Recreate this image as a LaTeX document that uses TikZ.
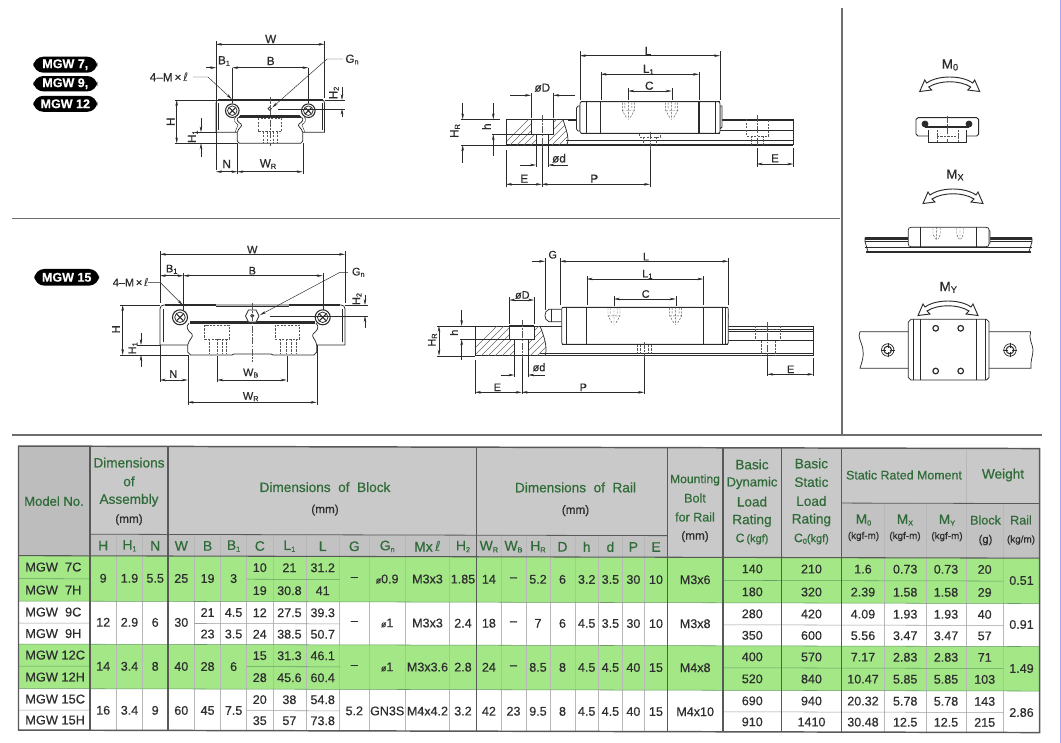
\documentclass[tikz,border=0pt]{standalone}
\usepackage{fontspec}
\setmainfont{Liberation Sans}[FakeBold=0.5]
\newfontfamily\djv{DejaVu Sans}
\usetikzlibrary{arrows.meta}
\definecolor{ink}{HTML}{2B2B2B}
\definecolor{hdr}{HTML}{C9C9C9}
\definecolor{hdrB}{HTML}{BDBDBD}
\definecolor{grn}{HTML}{A3E787}
\definecolor{hgrn}{HTML}{2F6B38}
\definecolor{cellink}{HTML}{2E2E2E}
\definecolor{rulec}{HTML}{6E6E6E}
\newcount\lbno
\newcommand\subs[1]{\raisebox{-.25ex}{\fontsize{5.5}{6}\selectfont #1}}
\newcommand\subm[1]{\raisebox{-.25ex}{\fontsize{7}{8}\selectfont #1}}
\newcommand\scriptl{{\djv ℓ}}
\newcommand\smallo{{\fontsize{6.5}{7}\selectfont ø}}
\newcommand\lb[4][]{\global\advance\lbno 1 \node[lab,#1] (n\the\lbno) at (#2,#3) {#4};}
\newcommand\tc[4][]{\global\advance\lbno 1 \node[cellt,#1] (n\the\lbno) at (#2,#3) {#4};}
\newcommand\hc[4][]{\global\advance\lbno 1 \node[headt,#1] (n\the\lbno) at (#2,#3) {#4};}
\newcommand\screw[3]{\draw[part,fill=white,line width=.8pt] (#1,#2) circle (#3);
 \draw[part,fill=white] (#1,#2) circle (#3*.7);
 \draw[part,line width=.8pt] (#1-#3*.45,#2-#3*.45) -- (#1+#3*.45,#2+#3*.45) (#1-#3*.45,#2+#3*.45) -- (#1+#3*.45,#2-#3*.45);}
\newcommand\thole[2]{\draw[hid] (#1-6,#2) -- (#1-6,#2+8) -- (#1-2,#2+15) (#1+6,#2) -- (#1+6,#2+8) -- (#1+2,#2+15) (#1-3.5,#2) -- (#1-3.5,#2+6) (#1+3.5,#2) -- (#1+3.5,#2+6) (#1-6,#2+8) -- (#1+6,#2+8) (#1,#2-1) -- (#1,#2+17);}
\newcommand\momarrow[2]{\begin{scope}[shift={(#1,#2)}]
 \draw[ink,fill=white,line width=.7pt,line join=miter] (-30,7.5) -- (-25,-4) -- (-23,-1) .. controls (-12,-9) and (12,-9) .. (23,-1) -- (25,-4) -- (30,7.5) -- (18,6) -- (21,3) .. controls (10,-4) and (-10,-4) .. (-21,3) -- (-18,6) -- cycle;
 \end{scope}}
\tikzset{
 lab/.style={inner sep=0pt,text=ink,font=\fontsize{8.8}{10}\selectfont},
 labs/.style={inner sep=0pt,text=ink,font=\fontsize{8.2}{9}\selectfont},
 labm/.style={inner sep=0pt,text=ink,font=\fontsize{10}{11}\selectfont},
 cellt/.style={inner sep=0pt,text=cellink,font=\fontsize{9.4}{10}\selectfont},
 headt/.style={inner sep=0pt,text=hgrn,font=\fontsize{10.2}{11}\selectfont},
 part/.style={draw=ink,line width=.55pt},
 heavy/.style={draw=ink,line width=1.1pt},
 thin/.style={draw=ink,line width=.3pt},
 hid/.style={draw=ink!80,line width=.35pt,dash pattern=on 1.6pt off 1pt},
 cen/.style={draw=ink!80,line width=.3pt,dash pattern=on 5pt off 1.2pt on 1.2pt off 1.2pt},
 dimb/.style={draw=ink,line width=.35pt,{Stealth[length=4.5pt,width=1.9pt]}-{Stealth[length=4.5pt,width=1.9pt]}},
 dimr/.style={draw=ink,line width=.35pt,-{Stealth[length=4.5pt,width=1.9pt]}},
 pill/.style={fill=black,rounded corners=7.5pt,text=white,inner sep=0pt,font=\bfseries\fontsize{9.4}{10}\selectfont},
 major/.style={draw=black!65,line width=.8pt},
 minor/.style={draw=black!28,line width=.35pt},
 rowg/.style={draw=green!35!black!60,line width=.4pt},
 rowk/.style={draw=black!38,line width=.4pt},
}
\begin{document}
\begin{tikzpicture}[x=.75pt,y=-.75pt]
\useasboundingbox (0,0) rectangle (1061,743);
\fill[white] (0,0) rectangle (1061,743);
% page rules
\draw[rulec,line width=1.1pt] (12,218.7) -- (840,218.7);
\draw[rulec,line width=1.1pt] (12,435) -- (1042,435);
\draw[rulec,line width=1.1pt] (842,8) -- (842,435);
\draw[blue!35!white,line width=1pt] (1060.5,0) -- (1060.5,743);
% badges
\node[pill,minimum width=48pt,minimum height=12pt] (b7) at (65.3,64.7) {MGW 7,};
\node[pill,minimum width=48pt,minimum height=11.5pt] (b9) at (65.3,83.7) {MGW 9,};
\node[pill,minimum width=48pt,minimum height=12pt] (b12) at (65.3,103.8) {MGW 12};
\node[pill,minimum width=48.5pt,minimum height=12.5pt] (b15) at (66.7,277.3) {MGW 15};

%%%%%%%%% cross-section 1
\draw[hid] (258,118.3) rectangle (281.7,131.7) (263,131.7) -- (263,143) (277,131.7) -- (277,143) (267,131.7) -- (267,143) (273,131.7) -- (273,143);
\draw[part] (237.3,132.3) -- (216,132.3) -- (216,103) .. controls (216,101) and (217,100) .. (219,100) -- (321.5,100) .. controls (323.5,100) and (324.5,101) .. (324.5,103) -- (324.5,132.3) -- (302.7,132.3);
\draw[thin] (218,130) -- (218,103) (322.5,130) -- (322.5,103);
\draw[heavy] (218,100) -- (322.5,100);
\draw[part] (237.3,132.3) -- (237.3,141) -- (239.3,143.3) -- (300.7,143.3) -- (302.7,141) -- (302.7,132.3);
\draw[heavy] (239,117) -- (301,117);
\draw[part] (240,115) -- (300,115);
\draw[part] (238.5,117) .. controls (235.5,120) and (238,122) .. (241,124) .. controls (243.5,126) and (238,128) .. (237.3,132.3);
\draw[part] (301.5,117) .. controls (304.5,120) and (302,122) .. (299,124) .. controls (296.5,126) and (302,128) .. (302.7,132.3);
\draw[thin] (236,117) .. controls (232.5,120) and (235,122) .. (238,125) -- (235,132.3);
\draw[thin] (304,117) .. controls (307.5,120) and (305,122) .. (302,125) -- (305,132.3);
\screw{232.3}{110.7}{6.8}
\screw{308.3}{110.7}{6.8}
\draw[part] (269.7,108.7) circle (1.7);
\draw[cen] (269.7,97) -- (269.7,146);
% dims
\draw[thin] (216,41) -- (216,170) (324.5,41) -- (324.5,98) (232.3,68) -- (232.3,103) (308.3,68) -- (308.3,103);
\draw[dimb] (216,44.3) -- (324.5,44.3);
\lb{270.7}{39}{W}
\draw[dimr] (206,67.7) -- (216,67.7);
\draw[dimb] (232.3,67.7) -- (308.3,67.7);
\lb{224}{61}{B\subs{1}}
\lb{270.7}{61}{B}
\lb{169}{77}{4–M\,×\,\scriptl}
\draw[dimr] (193,77) -- (208,77) -- (231.7,99);
\lb{352}{59.5}{G\subs{n}}
\draw[dimr] (343,59) -- (327,59) -- (272.2,107.5);
\draw[thin] (324.5,100) -- (345,100) (278,108.7) -- (345,108.7);
\draw[dimr] (342,86.7) -- (342,100);
\draw[dimr] (342,117) -- (342,108.7);
\lb[rotate=90]{334}{93}{H\subs{2}}
\draw[thin] (175,100) -- (216,100) (175,143.3) -- (237.3,143.3) (195,132.3) -- (216,132.3);
\draw[dimb] (176.7,100) -- (176.7,143.3);
\lb[rotate=90]{170.7}{121.7}{H}
\draw[dimr] (201,118) -- (201,132.3);
\draw[dimr] (201,157) -- (201,143.3);
\lb[rotate=90]{192.7}{136.7}{H\subs{1}}
\draw[thin] (237.3,143) -- (237.3,174) (302.7,143) -- (302.7,174);
\draw[dimb] (216,171.7) -- (237.3,171.7);
\draw[dimb] (237.3,171.7) -- (302.7,171.7);
\lb{226.7}{164}{N}
\lb{268}{164}{W\subs{R}}

%%%%%%%%% side view 1
\draw[part] (568,120.5) -- (793.3,120.5) (720,130) -- (793.3,130) (566,140.7) -- (793.3,140.7) (793.3,119.3) -- (793.3,145);
\draw[part,line width=.9pt] (563,119.3) -- (793.3,119.3);
\draw[heavy] (506,145) -- (793.3,145);
\draw[part] (506,119.3) -- (563,119.3);
\begin{scope}
 \clip (506,119.3) -- (531,119.3) -- (531,134.3) -- (536,134.3) -- (536,145) -- (506,145) -- cycle (553.3,119.3) -- (553.3,134.3) -- (548.3,134.3) -- (548.3,145) -- (566.7,145) .. controls (570,138) and (566,130) .. (563,119.3) -- cycle;
 \foreach \k in {0,7,...,100} {\draw[ink!70,line width=.3pt] (500+\k,148) -- (530+\k,118);}
\end{scope}
\draw[part] (506,119.3) -- (506,145) (531,119.3) -- (531,134.3) -- (536,134.3) -- (536,145) (553.3,119.3) -- (553.3,134.3) -- (548.3,134.3) -- (548.3,145) (531,134.3) -- (553.3,134.3);
\draw[part] (566.7,145) .. controls (570,138) and (566,130) .. (563,119.3);
\draw[heavy] (531,119.3) -- (553.3,119.3) (536,145) -- (548.3,145);
\draw[part,fill=white] (578,106) -- (576.5,108) -- (576.5,129) -- (578,131) -- (580,131) -- (580,106) -- cycle;
\draw[part,fill=white] (722,106) -- (720,106) -- (720,129) -- (722,127) -- cycle;
\draw[part,fill=white] (582,101.7) -- (718,101.7) .. controls (719.5,101.7) and (720,102.5) .. (720,104) -- (720,131) .. controls (720,132.5) and (719.5,133.3) .. (718,133.3) -- (582,133.3) .. controls (580.5,133.3) and (580,132.5) .. (580,131) -- (580,104) .. controls (580,102.5) and (580.5,101.7) .. (582,101.7) -- cycle;
\draw[heavy] (580.5,101.7) -- (719.5,101.7) (580.5,133.3) -- (719.5,133.3);
\draw[part,line width=.8pt] (600.7,101.7) -- (600.7,133.3) (699,101.7) -- (699,133.3);
\draw[part] (586,101.7) -- (586,133.3) (715,101.7) -- (715,133.3);
\thole{628.3}{102.5}
\thole{671.7}{102.5}
\draw[hid] (639.3,134) -- (639.3,137) -- (660.7,137) -- (660.7,134) (643.3,137) -- (643.3,145) (656.7,137) -- (656.7,145);
\draw[hid] (746.7,119.3) -- (746.7,136) -- (768.3,136) -- (768.3,119.3) (751.7,136) -- (751.7,145) (763.3,136) -- (763.3,145);
\draw[cen] (756.7,115) -- (756.7,146) (650,132) -- (650,150) (541.7,115) -- (541.7,148);
% dims
\draw[thin] (580,51) -- (580,100) (720,51) -- (720,100) (600.7,72) -- (600.7,100) (699,72) -- (699,100) (628.3,88) -- (628.3,100) (671.7,88) -- (671.7,100);
\draw[dimb] (580,55.7) -- (720,55.7);
\lb{648}{51}{L}
\draw[dimb] (600.7,74.3) -- (699,74.3);
\lb{648.3}{69.5}{L\subs{1}}
\draw[dimb] (628.3,91) -- (671.7,91);
\lb{649.3}{85.7}{C}
\draw[thin] (531,93) -- (531,118) (553.3,93) -- (553.3,118);
\draw[dimr] (510,95.3) -- (531,95.3);
\draw[dimr] (575,95.3) -- (553.3,95.3);
\lb{542.3}{87.7}{øD}
\draw[thin] (460.7,119.3) -- (500,119.3) (491.7,134.3) -- (531,134.3) (460.7,145) -- (506,145);
\draw[dimr] (493.3,103.3) -- (493.3,119.3);
\draw[dimr] (493.3,156) -- (493.3,134.3);
\lb[rotate=90]{486.5}{126.7}{h}
\draw[dimr] (462.7,102.7) -- (462.7,119.3);
\draw[dimr] (462.7,162.7) -- (462.7,145);
\lb[rotate=90]{455}{131}{H\subs{R}}
\draw[thin] (536,146) -- (536,167) (548.3,146) -- (548.3,167) (506,150) -- (506,187) (541.7,148) -- (541.7,187) (650,150) -- (650,187);
\draw[dimr] (520,165) -- (536,165);
\draw[dimr] (568,165) -- (548.3,165);
\lb{559}{158.3}{ød}
\draw[dimb] (506,184.3) -- (541.7,184.3);
\draw[dimb] (541.7,184.3) -- (650,184.3);
\lb{524.3}{178.7}{E}
\lb{594.3}{178.7}{P}
\draw[thin] (756.7,148) -- (756.7,167) (793.3,148) -- (793.3,167);
\draw[dimb] (756.7,164) -- (793.3,164);
\lb{775}{158.3}{E}

%%%%%%%%% cross-section 2
\draw[hid] (204.7,325) rectangle (229,339) (209,339) -- (209,354) (217.3,339) -- (217.3,354) (222,339) -- (222,354) (226,339) -- (226,354);
\draw[hid] (275.3,325) rectangle (299.7,339) (280,339) -- (280,354) (286.7,339) -- (286.7,354) (291,339) -- (291,354) (296,339) -- (296,354);
\draw[part] (187.7,345) -- (160,345) -- (160,309) .. controls (160,306.5) and (161.5,305) .. (164,305) -- (341,305) .. controls (343.5,305) and (345,306.5) .. (345,309) -- (345,345) -- (316.7,345);
\draw[heavy] (165,305) -- (216,305) (289,305) -- (340,305);
\draw[part] (216,306.5) -- (289,306.5);
\draw[thin] (163,342) -- (163,309) (342,342) -- (342,309);
\draw[part] (187.7,345) -- (187.7,352) -- (190.5,355) -- (232,355) -- (234,354) -- (271,354) -- (273,355) -- (314,355) -- (316.7,352) -- (316.7,345);
\draw[heavy] (190,323) -- (315,323);
\draw[part] (190,321) -- (315,321);
\draw[part] (189,323) .. controls (185,327) and (188,331) .. (192,334) .. controls (194,337) and (189,339) .. (187.7,345);
\draw[part] (316,323) .. controls (320,327) and (317,331) .. (313,334) .. controls (311,337) and (316,339) .. (316.7,345);
\screw{180}{317.3}{7.5}
\screw{322.7}{317.3}{7.5}
\draw[part,fill=white] (245.5,316) -- (248.5,310) -- (256,310) -- (259,316) -- (256,322) -- (248.5,322) -- cycle;
\draw[part] (252.3,315.7) circle (1.6);
\draw[cen] (252.3,303) -- (252.3,362);
% dims
\draw[thin] (160,251) -- (160,303) (345,251) -- (345,303) (183.3,273) -- (183.3,310) (322.7,273) -- (322.7,310) (160,345) -- (160,382) (187.7,355) -- (187.7,405) (316.7,345) -- (316.7,405) (217.3,356) -- (217.3,382) (286.7,356) -- (286.7,382);
\draw[dimb] (160,254.3) -- (345,254.3);
\lb[labs]{252.3}{249.7}{W}
\draw[dimb] (160,275.7) -- (183.3,275.7);
\draw[dimb] (183.3,275.7) -- (322.7,275.7);
\lb[labs]{171.7}{269.3}{B\subs{1}}
\lb[labs]{252.3}{270.7}{B}
\lb[labs]{130.7}{282.3}{4–M\,×\,\scriptl}
\draw[dimr] (148,282.3) -- (160,282.3) -- (182.7,305);
\lb[labs]{358.3}{272.3}{G\subs{n}}
\draw[dimr] (348,272.3) -- (340,272.3) -- (260,315);
\draw[thin] (345,305) -- (368,305) (270,316) -- (368,316);
\draw[dimr] (365,295) -- (365,305);
\draw[dimr] (365,328) -- (365,316);
\lb[labs,rotate=90]{357}{299}{H\subs{2}}
\draw[thin] (120,305) -- (160,305) (120,355) -- (187.7,355) (137,345) -- (160,345);
\draw[dimb] (122.7,305) -- (122.7,355);
\lb[labs,rotate=90]{116}{329.3}{H}
\draw[dimr] (141,333.3) -- (141,345);
\draw[dimr] (141,366.7) -- (141,355);
\lb[labs,rotate=90]{133}{348.3}{H\subs{1}}
\draw[dimb] (160,380) -- (187.7,380);
\lb[labs]{173.3}{374}{N}
\draw[dimb] (217.3,380) -- (286.7,380);
\lb[labs]{250.7}{373}{W\subs{B}}
\draw[dimb] (187.7,402.3) -- (316.7,402.3);
\lb[labs]{250.7}{396.7}{W\subs{R}}

%%%%%%%%% side view 2
\draw[part] (475,326) -- (813.3,326) (728,329) -- (813.3,329) (728,331) -- (813.3,331) (728,340.5) -- (813.3,340.5) (540,353) -- (813.3,353) (813.3,326) -- (813.3,355.7);
\draw[heavy] (475,355.7) -- (813.3,355.7);
\begin{scope}
 \clip (475,326) -- (509.3,326) -- (509.3,339.3) -- (514.3,339.3) -- (514.3,355.7) -- (475,355.7) -- cycle (534,326) -- (534,339.3) -- (528.3,339.3) -- (528.3,355.7) -- (545,355.7) .. controls (548,348) and (544,336) .. (540,326) -- cycle;
 \foreach \k in {0,7,...,110} {\draw[ink!70,line width=.3pt] (465+\k,358) -- (497+\k,326);}
\end{scope}
\draw[part] (475,326) -- (475,355.7) (509.3,326) -- (509.3,339.3) -- (514.3,339.3) -- (514.3,355.7) (534,326) -- (534,339.3) -- (528.3,339.3) -- (528.3,355.7) (509.3,339.3) -- (534,339.3);
\draw[heavy] (509.3,326) -- (534,326);
\draw[part] (545,355.7) .. controls (548,348) and (544,336) .. (540,326);
% nipple
\draw[part,fill=white] (561.7,309.3) -- (549,309.3) .. controls (546,310) and (545,313) .. (545,315.5) .. controls (545,318) and (546,321) .. (549,321.7) -- (561.7,321.7);
\draw[part] (551,309.3) -- (551,321.7);
\draw[part,fill=white] (726,311) .. controls (729,313) and (729.5,318) .. (726,322) -- cycle;
\draw[part,fill=white] (563.5,307.3) -- (726.5,307.3) .. controls (727.8,307.3) and (728.3,308) .. (728.3,309.5) -- (728.3,342) .. controls (728.3,343.5) and (727.8,344.3) .. (726.5,344.3) -- (563.5,344.3) .. controls (562.2,344.3) and (561.7,343.5) .. (561.7,342) -- (561.7,309.5) .. controls (561.7,308) and (562.2,307.3) .. (563.5,307.3) -- cycle;
\draw[heavy] (562,344.3) -- (728,344.3);
\draw[part,line width=.75pt] (562,307.3) -- (728,307.3) (586.7,307.3) -- (586.7,344.3) (703.3,307.3) -- (703.3,344.3);
\draw[part] (566.7,307.3) -- (566.7,344.3) (722.3,307.3) -- (722.3,344.3) (725,307.3) -- (725,344.3);
\thole{614}{307.8}
\thole{675.7}{307.8}
\draw[hid] (637,345) -- (637,355) (651,345) -- (651,355) (640,345) -- (640,355) (648,345) -- (648,355);
\draw[hid] (755,329) -- (780,329) (755,326) -- (755,341) (780,326) -- (780,341) (761,341) -- (761,355) (775,341) -- (775,355);
\draw[cen] (767.3,322) -- (767.3,358) (644,342) -- (644,358) (521.7,320) -- (521.7,358);
% dims
\draw[thin] (545,258) -- (545,310) (560,258) -- (560,305) (728.3,258) -- (728.3,305) (586.7,276) -- (586.7,305) (703.3,276) -- (703.3,305) (614,296) -- (614,306) (675.7,296) -- (675.7,306);
\draw[dimr] (531.7,261.3) -- (545,261.3);
\draw[dimb] (560,261.3) -- (728.3,261.3);
\lb[labs]{552.7}{254.7}{G}
\lb[labs]{646}{256.7}{L}
\draw[dimb] (586.7,279) -- (703.3,279);
\lb[labs]{647.3}{274.3}{L\subs{1}}
\draw[dimb] (614,299) -- (675.7,299);
\lb[labs]{645.7}{294}{C}
\draw[thin] (509.3,297) -- (509.3,324) (534,297) -- (534,324);
\draw[dimb] (509.3,300) -- (534,300);
\lb[labs]{522.3}{295}{øD}
\draw[thin] (437,326) -- (475,326) (459.7,339.3) -- (509,339.3) (437,355.7) -- (475,355.7);
\draw[dimr] (461.7,310) -- (461.7,326);
\draw[dimr] (461.7,360) -- (461.7,339.3);
\lb[labs,rotate=90]{454}{332.7}{h}
\draw[dimb] (439,326) -- (439,355.7);
\lb[labs,rotate=90]{432.5}{340}{H\subs{R}}
\draw[thin] (514.3,356) -- (514.3,377) (528.3,356) -- (528.3,377) (475,360) -- (475,394) (521.7,358) -- (521.7,394) (644,358) -- (644,394);
\draw[dimr] (500.7,375) -- (514.3,375);
\draw[dimr] (545,375) -- (528.3,375);
\lb[labs]{539}{367.3}{ød}
\draw[dimb] (475,392.3) -- (521.7,392.3);
\draw[dimb] (521.7,392.3) -- (644,392.3);
\lb[labs]{497.3}{387.3}{E}
\lb[labs]{583.3}{387.3}{P}
\draw[thin] (767.3,358) -- (767.3,376) (813.3,358) -- (813.3,376);
\draw[dimb] (767.3,374.3) -- (813.3,374.3);
\lb[labs]{790.7}{369.3}{E}

%%%%%%%%% moment panel
\lb[labm]{950}{65}{M\subm{0}}
\momarrow{949.7}{84}
\lb[labm]{955}{175}{M\subm{X}}
\momarrow{953}{196}
\lb[labm]{948.3}{287.3}{M\subm{Y}}
\momarrow{948}{308}
% M0 block
\draw[part,line width=.7pt] (928,136) -- (918,136) -- (916,134) -- (916,119.5) -- (918,117.7) -- (976.7,117.7) -- (978.7,119.5) -- (978.7,134) -- (976.7,136) -- (966.7,136);
\draw[part,line width=.7pt] (928,130) -- (928,142.7) -- (966.7,142.7) -- (966.7,130);
\draw[line width=1.3pt,ink] (925,126.7) -- (969,126.7);
\draw[part,fill=ink] (925,124) circle (3);
\draw[part,fill=ink] (969,124) circle (3);
\draw[hid] (937,130) -- (937,142) (958,130) -- (958,142) (937,136) -- (958,136);
\draw[cen] (947.3,116) -- (947.3,143);
% Mx
\draw[part] (865,237.5) -- (908.3,237.5) (989,237.5) -- (1032,237.5) (865,241.7) -- (908.3,241.7) (989,241.7) -- (1032,241.7) (865,247) -- (1032,247);
\draw[ink,line width=1.4pt] (865,239) -- (908.3,239) (989,239) -- (1032,239);
\draw[ink,line width=1.6pt] (866,251.7) -- (1031,251.7);
\draw[part] (865,237.5) -- (865,241.7) -- (868,251.7) (1032,237.5) -- (1032,241.7) -- (1029,251.7);
\draw[part,fill=white] (986,229) -- (990,231) -- (990,243) -- (986,245) -- cycle;
\draw[part,fill=white] (911,227.3) -- (986,227.3) .. controls (988,227.3) and (989,228.3) .. (989,230) -- (989,244) .. controls (989,245.7) and (988,246.7) .. (986,246.7) -- (911,246.7) .. controls (909.3,246.7) and (908.3,245.7) .. (908.3,244) -- (908.3,230) .. controls (908.3,228.3) and (909.3,227.3) .. (911,227.3) -- cycle;
\draw[part] (920,227.3) -- (920,246.7) (976.7,227.3) -- (976.7,246.7);
\draw[hid] (933,228) -- (933,234) -- (935.5,239) (940.5,228) -- (940.5,234) -- (938,239) (936.7,227) -- (936.7,240);
\draw[hid] (956.5,228) -- (956.5,234) -- (959,239) (963.5,228) -- (963.5,234) -- (961,239) (960,227) -- (960,240);
% My
\draw[part] (908.3,331.7) -- (860,331.7) .. controls (857,337) and (862,342) .. (863,350) .. controls (864,356) and (862,362) .. (860,368.3) -- (908.3,368.3);
\draw[part] (989,331.7) -- (1030.7,331.7) .. controls (1028,338) and (1033,345) .. (1033,350) .. controls (1033,356) and (1030,362) .. (1031,368.3) -- (989,368.3);
\draw[part,fill=white] (911,319.3) -- (986.5,319.3) -- (989,322) -- (989,377.5) -- (986.5,380) -- (911,380) -- (908.3,377.5) -- (908.3,322) -- cycle;
\draw[part] (913.3,319.3) -- (913.3,380) (920,319.3) -- (920,380) (976.7,319.3) -- (976.7,380) (985.7,319.3) -- (985.7,380);
\foreach \px/\py in {935.7/328.3,960.7/328.3,935.7/371,960.7/371}
  {\draw[part,line width=.9pt] (\px,\py) circle (2.8);}
\foreach \px in {887.7,1010} {
  \draw[part] (\px,350) circle (6.2);
  \draw[part,line width=.8pt] (\px,350) circle (3.8);
  \draw[thin] (\px-7,350) -- (\px-2,350) (\px+2,350) -- (\px+7,350) (\px,343) -- (\px,348) (\px,352) -- (\px,357);
}

%%%%%%%%% table
\begin{scope}[yslant=-0.00245]
\fill[hdr] (18.5,446) rectangle (1039.6,555.6);
\fill[hdrB] (18.5,446) rectangle (90,555.6);
\fill[hdrB!92!white] (90,534) rectangle (667.5,555.6);
\fill[hdrB!92!white] (841.5,501) rectangle (1039.6,555.6);
\fill[grn] (18.5,555.6) rectangle (1039.6,601);
\fill[grn] (18.5,644) rectangle (1039.6,688.5);
% minor verticals
\foreach \x in {116.5,142.5,194.6,220.6,246.6,273,305.8,339.6,369,405.5,449.5,501,526,550,575,598.4,622.4,644.5} {\draw[minor] (\x,534) -- (\x,730);}
\foreach \x in {884.5,926,1003.4} {\draw[minor] (\x,501) -- (\x,730);}
\draw[minor] (966,448) -- (966,730);
% horizontals
\draw[major,line width=.6pt] (90,534) -- (667.5,534) (841.5,501) -- (1039.6,501);
\draw[major] (18.5,555.6) -- (1039.6,555.6);
\foreach \a/\b in {18.5/90,246.6/339.6,723/1003.4} {\draw[rowg] (\a,578.6) -- (\b,578.6); \draw[rowg] (\a,666) -- (\b,666);}
\foreach \a/\b in {18.5/90,194.6/339.6,723/1003.4} {\draw[rowk] (\a,623) -- (\b,623);}
\foreach \a/\b in {18.5/90,246.6/339.6,723/1003.4} {\draw[rowk] (\a,710) -- (\b,710);}
\draw[rowg] (18.5,601) -- (1039.6,601) (18.5,644) -- (1039.6,644) (18.5,688.5) -- (1039.6,688.5);
% major verticals and frame
\foreach \x in {90,168,476.8,667.5,723,781.6,841.5} {\draw[major] (\x,446) -- (\x,730);}
\draw[major,line width=1.1pt] (18.5,446) rectangle (1039.6,730);
% header text
\hc[font=\fontsize{9.8}{11}\selectfont]{54}{501}{Model No.}
\hc{129}{462.3}{Dimensions}
\hc{129}{481}{of}
\hc{129}{500}{Assembly}
\hc[text=cellink,font=\fontsize{8.8}{10}\selectfont]{129}{519.4}{(mm)}
\hc{325}{486.3}{Dimensions\ \ of\ \ Block}
\hc[text=cellink,font=\fontsize{8.8}{10}\selectfont]{325}{509.3}{(mm)}
\hc{575.5}{486}{Dimensions\ \ of\ \ Rail}
\hc[text=cellink,font=\fontsize{8.8}{10}\selectfont]{575.5}{509.3}{(mm)}
\hc[font=\fontsize{9.1}{10}\selectfont]{695}{478.3}{Mounting}
\hc[font=\fontsize{9.4}{10}\selectfont]{695}{496.3}{Bolt}
\hc[font=\fontsize{9.4}{10}\selectfont]{695}{515.3}{for Rail}
\hc[text=cellink,font=\fontsize{8.8}{10}\selectfont]{695}{534.8}{(mm)}
\hc{752}{462.6}{Basic}
\hc[font=\fontsize{9.8}{11}\selectfont]{752}{481.2}{Dynamic}
\hc{752}{499.8}{Load}
\hc{752}{518.8}{Rating}
\hc[text=hgrn,font=\fontsize{9.2}{10}\selectfont]{752}{537.2}{C\,{\fontsize{8.2}{9}\selectfont (kgf)}}
\hc{811.4}{461.4}{Basic}
\hc{811.4}{480}{Static}
\hc{811.4}{499}{Load}
\hc{811.4}{518}{Rating}
\hc[text=hgrn,font=\fontsize{9.2}{10}\selectfont]{811.4}{537}{C\subs{0}{\fontsize{8.2}{9}\selectfont (kgf)}}
\hc[font=\fontsize{9.3}{10}\selectfont]{904}{472.8}{Static Rated Moment}
\hc{1003}{472.6}{Weight}
\hc{863.5}{517.8}{M\subs{0}}
\hc{905}{517.8}{M\subs{X}}
\hc{947}{517.8}{M\subs{Y}}
\hc[font=\fontsize{9.4}{10}\selectfont]{985.5}{517.6}{Block}
\hc[font=\fontsize{9.4}{10}\selectfont]{1021}{517.5}{Rail}
\foreach \x in {863.5,905,947} {\hc[text=cellink,font=\fontsize{7.4}{9}\selectfont]{\x}{534.3}{(kgf-m)}}
\hc[text=cellink,font=\fontsize{8.4}{9}\selectfont]{985.5}{537.6}{(g)}
\hc[text=cellink,font=\fontsize{7.4}{9}\selectfont]{1021}{537.5}{(kg/m)}
\foreach \x/\t in {103.2/H,129.5/H\subs{1},155.2/N,181.3/W,207.6/B,233.6/B\subs{1},259.8/C,289.4/L\subs{1},322.7/L,354.3/G,387.2/G\subs{n},427.5/{Mx\,\scriptl},463/H\subs{2},488.9/W\subs{R},513.5/W\subs{B},538/H\subs{R},562.5/D,586.7/h,610.4/d,633.4/P,656/E}
  {\hc[font=\fontsize{10.4}{11}\selectfont]{\x}{545.4}{\t}}
% data
\foreach \y/\t in {567/MGW\ \ 7C,590/MGW\ \ 7H,612/MGW\ \ 9C,633.5/MGW\ \ 9H,655/MGW 12C,677/MGW 12H,699/MGW 15C,720/MGW 15H}
  {\tc[anchor=west,font=\fontsize{9.6}{11}\selectfont]{25}{\y}{\t}}
\foreach \x/\t in {103.2/9,129.5/1.9,155.2/5.5,181.3/25,207.6/19,233.6/3,354.3/–,387.2/\smallo 0.9,427.5/M3x3,463/1.85,488.9/14,513.5/–,538/5.2,562.5/6,586.7/3.2,610.4/3.5,633.4/30,656/10,695.2/M3x6,1021.5/0.51} {\tc{\x}{578}{\t}}
\foreach \x/\t in {259.8/10,289.4/21,322.7/31.2,752.3/140,811.5/210,863/1.6,905.2/0.73,946/0.73,984.7/20} {\tc{\x}{567}{\t}}
\foreach \x/\t in {259.8/19,289.4/30.8,322.7/41,752.3/180,811.5/320,863/2.39,905.2/1.58,946/1.58,984.7/29} {\tc{\x}{590}{\t}}
\foreach \x/\t in {103.2/12,129.5/2.9,155.2/6,181.3/30,354.3/–,387.2/\smallo 1,427.5/M3x3,463/2.4,488.9/18,513.5/–,538/7,562.5/6,586.7/4.5,610.4/3.5,633.4/30,656/10,695.2/M3x8,1021.5/0.91} {\tc{\x}{622}{\t}}
\foreach \x/\t in {207.6/21,233.6/4.5,259.8/12,289.4/27.5,322.7/39.3,752.3/280,811.5/420,863/4.09,905.2/1.93,946/1.93,984.7/40} {\tc{\x}{612}{\t}}
\foreach \x/\t in {207.6/23,233.6/3.5,259.8/24,289.4/38.5,322.7/50.7,752.3/350,811.5/600,863/5.56,905.2/3.47,946/3.47,984.7/57} {\tc{\x}{633.5}{\t}}
\foreach \x/\t in {103.2/14,129.5/3.4,155.2/8,181.3/40,207.6/28,233.6/6,354.3/–,387.2/\smallo 1,427.5/M3x3.6,463/2.8,488.9/24,513.5/–,538/8.5,562.5/8,586.7/4.5,610.4/4.5,633.4/40,656/15,695.2/M4x8,1021.5/1.49} {\tc{\x}{666}{\t}}
\foreach \x/\t in {259.8/15,289.4/31.3,322.7/46.1,752.3/400,811.5/570,863/7.17,905.2/2.83,946/2.83,984.7/71} {\tc{\x}{655}{\t}}
\foreach \x/\t in {259.8/28,289.4/45.6,322.7/60.4,752.3/520,811.5/840,863/10.47,905.2/5.85,946/5.85,984.7/103} {\tc{\x}{677}{\t}}
\foreach \x/\t in {103.2/16,129.5/3.4,155.2/9,181.3/60,207.6/45,233.6/7.5,354.3/5.2,387.2/GN3S,427.5/M4x4.2,463/3.2,488.9/42,513.5/23,538/9.5,562.5/8,586.7/4.5,610.4/4.5,633.4/40,656/15,695.2/M4x10,1021.5/2.86} {\tc{\x}{710}{\t}}
\foreach \x/\t in {259.8/20,289.4/38,322.7/54.8,752.3/690,811.5/940,863/20.32,905.2/5.78,946/5.78,984.7/143} {\tc{\x}{699}{\t}}
\foreach \x/\t in {259.8/35,289.4/57,322.7/73.8,752.3/910,811.5/1410,863/30.48,905.2/12.5,946/12.5,984.7/215} {\tc{\x}{720}{\t}}
\end{scope}
\end{tikzpicture}
\end{document}
